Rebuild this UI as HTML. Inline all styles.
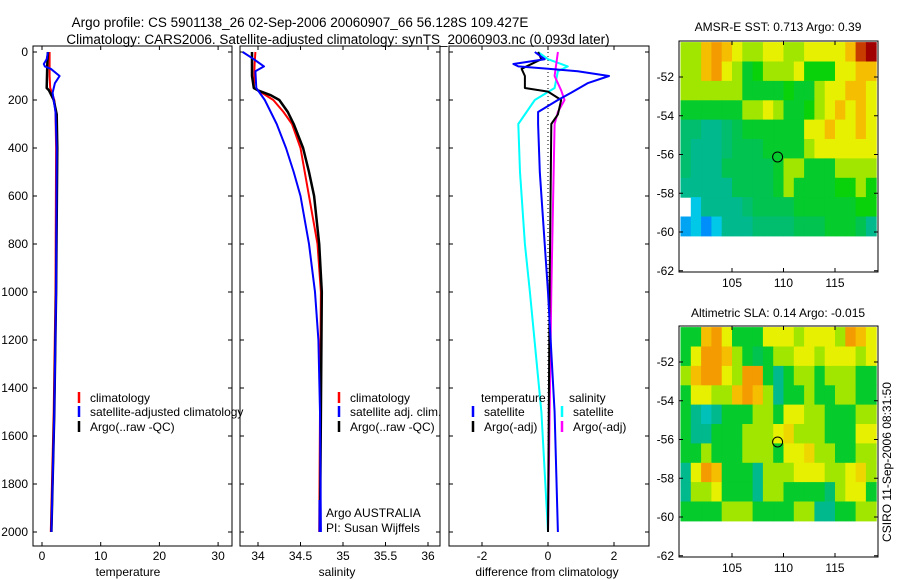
<!DOCTYPE html>
<html><head><meta charset="utf-8"><style>
body{margin:0;background:#fff;}
svg{display:block;font-family:"Liberation Sans",sans-serif;}
</style></head><body>
<svg id="c" width="900" height="580" xmlns="http://www.w3.org/2000/svg">
<text x="300" y="27" font-size="13.5" text-anchor="middle">Argo profile: CS 5901138_26 02-Sep-2006 20060907_66 56.128S 109.427E</text>
<text x="338" y="44" font-size="13.5" text-anchor="middle">Climatology: CARS2006. Satellite-adjusted climatology: synTS_20060903.nc (0.093d later)</text>
<text x="128" y="576" font-size="12" text-anchor="middle">temperature</text>
<text x="337" y="576" font-size="12" text-anchor="middle">salinity</text>
<text x="547" y="576" font-size="12" text-anchor="middle">difference from climatology</text>
<text x="778" y="31" font-size="12" text-anchor="middle">AMSR-E SST: 0.713 Argo: 0.39</text>
<text x="778" y="317" font-size="12" text-anchor="middle">Altimetric SLA: 0.14  Argo: -0.015</text>
<text transform="translate(891,462) rotate(-90)" font-size="12" text-anchor="middle">CSIRO 11-Sep-2006 08:31:50</text>
</svg>
<script>
// ---- data ----
const depthTicks=[0,200,400,600,800,1000,1200,1400,1600,1800,2000];
const tempTicks=[0,10,20,30];
const salTicks=[34,34.5,35,35.5,36];
const diffTicks=[-2,0,2];
const lonTicks=[105,110,115];
const latTicks=[-52,-54,-56,-58,-60,-62];

const tClimD=[0,50,100,150,170,200,250,400,1000,1500,2000];
const tClimV=[1.3,1.3,1.3,1.4,1.7,2.1,2.3,2.4,2.3,2.0,1.5];
const tSatD=[0,30,50,60,70,100,130,170,250,400,1000,1500,2000];
const tSatV=[1.0,0.8,0.3,0.5,1.5,3.0,2.2,1.8,2.3,2.5,2.4,2.1,1.6];
const tArgD=[0,50,150,160,200,260,400,1000,1500,2000];
const tArgV=[1.0,0.9,0.8,1.2,2.0,2.5,2.6,2.4,2.1,1.6];

const sClimD=[0,50,150,160,200,250,300,400,600,800,1000,1500,2000];
const sClimV=[33.97,33.96,33.95,34.0,34.18,34.3,34.4,34.5,34.6,34.7,34.74,34.73,34.72];
const sSatD=[0,30,60,80,150,200,300,400,500,600,800,1000,1200,1500,2000];
const sSatV=[33.82,33.95,34.07,33.97,33.98,34.08,34.22,34.33,34.42,34.5,34.6,34.67,34.71,34.73,34.74];
const sArgD=[0,100,150,160,180,200,250,300,400,500,600,800,1000,1500,2000];
const sArgV=[33.93,33.93,33.95,34.0,34.15,34.25,34.35,34.42,34.53,34.6,34.66,34.72,34.75,34.74,34.73];

const dTSatD=[0,30,50,60,70,80,100,130,170,200,250,300,500,1000,1500,2000];
const dTSatV=[-0.4,-0.1,-1.05,-0.9,0.0,0.9,1.85,1.2,0.7,0.3,-0.3,-0.3,-0.25,0.0,0.2,0.3];
const dTArgD=[0,30,70,100,150,165,200,260,300,1000,2000];
const dTArgV=[-0.3,-0.2,-0.8,-0.7,-0.7,0.0,0.4,0.3,0.1,0.05,0.0];
const dSSatD=[0,30,60,80,150,200,300,500,800,1000,1500,2000];
const dSSatV=[-0.3,0.0,0.6,0.3,0.2,-0.4,-0.9,-0.85,-0.7,-0.55,-0.2,0.0];
const dSArgD=[0,100,160,200,250,300,1000,2000];
const dSArgV=[0.3,0.2,0.4,0.5,0.3,0.2,0.1,0.0];

// map grids: rows lat -50.2..-60.2 (1 deg), cols lon 100..118 (1 deg); -1 = no data
const sstGrid=[
[6,6,8,8.5,8,7,6,6,7,7,6,6,7,7,7,7,8,9.5,10],
[6,6,8,8.5,7,6,4.5,5,6,6,6,7,5,5,5,7,7,8,8],
[6,6,6,6,6,6,4.5,4.5,4.5,4.5,5,4.5,4.5,6,7,7,8,8,7],
[4.5,4.5,4.5,4.5,4.5,4.5,6,6,7,6,4.5,4.5,5,6,7,8,7,8,7],
[3.5,3.5,3,3,3.5,4,4.5,4.5,4.5,4.5,4.5,4.5,7,7,8,7,7,8,7],
[3.5,3,3,3,3.5,4,4,4,4.5,4.5,4.5,4.5,6,7,7,7,7,7,7],
[3.5,3,3,3,4,4,4,4,4,4.5,6,6,4.5,4.5,4.5,6,6,6,6],
[3,3,3,3,3,4,4,4,4,4.5,6,4.5,4.5,4.5,4.5,5,5,6,5],
[-1,2,3,3,3,3,3.5,4,4,4,4,4.5,4.5,4.5,4.5,4.5,4.5,5,5],
[1.5,2,1.2,2,3,3,3,3.5,3.5,3.5,3.5,4,4,4,4.5,4.5,4.5,4,3]
];
const slaGrid=[
[4.5,4.5,8,8.5,7,4.5,4.5,4.5,7,7,7,6,7,7,7,6,8.5,8,7],
[4.5,7,8.5,8.5,8,6,4.5,4,4.5,6,6,7,7,6,7,7,7,6,7],
[6,8,8.5,8.5,7,6,8.5,8.5,4.5,3,4.5,6,6,4.5,6,6,6,4.5,4.5],
[4.5,7,7,6,6,8,8.5,8,6,3,4.5,4.5,6,4.5,4.5,6,6,4.5,4.5],
[4.5,3,2.5,3,4.5,4.5,4.5,6,6,4.5,7,7,6,6,4.5,4.5,4.5,6,6],
[4.5,3,3,4.5,4.5,4.5,6,6,6,7,7.5,6,6,6,4.5,4.5,4.5,7,7],
[4.5,4.5,6,4.5,4.5,4.5,6,6,6,4.5,7,7,7.5,6,6,4.5,4.5,6,6],
[3,7,8.5,8,4.5,4.5,4.5,3,6,6,6,7,7,7,6,6,7,7.5,6],
[3,6,6,7,4.5,4.5,4.5,3,6,6,4.5,4.5,4.5,4.5,3.5,6,7,7,4.5],
[4.5,4.5,4.5,4.5,6,6,6,4.5,4.5,4.5,4.5,6,6,3,3,4.5,4.5,6,6]
];
const argoLon=109.427, argoLat=-56.128;

// ---- drawing ----
const svg=document.getElementById('c');
const NS='http://www.w3.org/2000/svg';
function mk(tag,attrs,parent){const e=document.createElementNS(NS,tag);for(const k in attrs)e.setAttribute(k,attrs[k]);(parent||svg).appendChild(e);return e;}
const yD=d=>52+d*0.24;
const PT=46, PB=546;
const panels=[
 {name:'temperature',x0:33,x1:232,sx:v=>42+v*5.87,ticks:tempTicks,fmt:v=>String(v),labels:true},
 {name:'salinity',x0:240,x1:440,sx:v=>258+(v-34)*85,ticks:salTicks,fmt:v=>String(v),labels:false},
 {name:'difference',x0:449,x1:649,sx:v=>548+v*33,ticks:diffTicks,fmt:v=>String(v),labels:false}
];
panels.forEach(p=>{
  const g=mk('g',{});
  
  
  const fr=mk('rect',{x:p.x0,y:PT,width:p.x1-p.x0,height:PB-PT,fill:'none',stroke:'#000','stroke-width':1},g);
  
  
  depthTicks.forEach(d=>{
    const y=yD(d);
    mk('line',{x1:p.x0,x2:p.x0+4,y1:y,y2:y,stroke:'#000'},g);
    mk('line',{x1:p.x1-4,x2:p.x1,y1:y,y2:y,stroke:'#000'},g);
    if(p.labels){const t=mk('text',{x:p.x0-5,y:y+4,'font-size':12,'text-anchor':'end'},g);t.textContent=d;
      
      }
  });
  p.ticks.forEach(v=>{
    const x=p.sx(v);
    mk('line',{x1:x,x2:x,y1:PT,y2:PT+4,stroke:'#000'},g);
    mk('line',{x1:x,x2:x,y1:PB-4,y2:PB,stroke:'#000'},g);
    const t=mk('text',{x:x,y:560,'font-size':12,'text-anchor':'middle'},g);t.textContent=p.fmt(v);
    
    
  });
});
function line(p,D,V,color,w,name){
  const pts=D.map((d,i)=>p.sx(V[i]).toFixed(1)+','+yD(d).toFixed(1)).join(' ');
  const e=mk('polyline',{points:pts,fill:'none',stroke:color,'stroke-width':w,'stroke-linejoin':'round'});
  
  
}
const [P1,P2,P3]=panels;
line(P1,tClimD,tClimV,'#f00',2,'temp-climatology-line');
line(P1,tArgD,tArgV,'#000',2.5,'temp-argo-line');
line(P1,tSatD,tSatV,'#00f',2,'temp-satellite-line');
line(P2,sClimD,sClimV,'#f00',2,'sal-climatology-line');
line(P2,sArgD,sArgV,'#000',2.5,'sal-argo-line');
line(P2,sSatD,sSatV,'#00f',2,'sal-satellite-line');
const zl=mk('line',{x1:P3.sx(0),x2:P3.sx(0),y1:yD(0),y2:yD(2000),stroke:'#000','stroke-dasharray':'1,3'});


line(P3,dSSatD,dSSatV,'#0ff',2,'sal-diff-satellite-line');
line(P3,dSArgD,dSArgV,'#f0f',2,'sal-diff-argo-line');
line(P3,dTArgD,dTArgV,'#000',2,'temp-diff-argo-line');
line(P3,dTSatD,dTSatV,'#00f',2,'temp-diff-satellite-line');
const bl=mk('line',{x1:320,x2:320,y1:500,y2:532,stroke:'#00f','stroke-width':3});



function legend(x,y,color,label,name){
  const l=mk('line',{x1:x,x2:x,y1:y-10,y2:y+1,stroke:color,'stroke-width':2.5});
  
  
  if(label){const t=mk('text',{x:x+11,y:y,'font-size':12});t.textContent=label;
  
  }
}
legend(79,402,'#f00','climatology','legend-temp-climatology');
legend(79,416,'#00f','satellite-adjusted climatology','legend-temp-satellite');
legend(79,431,'#000','Argo(..raw -QC)','legend-temp-argo');
legend(339,402,'#f00','climatology','legend-sal-climatology');
legend(339,416,'#00f','satellite adj. clim.','legend-sal-satellite');
legend(339,431,'#000','Argo(..raw -QC)','legend-sal-argo');
function txt(x,y,s,name){const t=mk('text',{x:x,y:y,'font-size':12});t.textContent=s;
  
  }
txt(481,402,'temperature','legend-temperature-heading');
txt(569,402,'salinity','legend-salinity-heading');
legend(473,416,'#00f','satellite','legend-diff-temp-satellite');
legend(473,431,'#000','Argo(-adj)','legend-diff-temp-argo');
legend(562,416,'#0ff','satellite','legend-diff-sal-satellite');
legend(562,431,'#f0f','Argo(-adj)','legend-diff-sal-argo');
txt(326,517,'Argo AUSTRALIA','float-country-label');
txt(326,532,'PI: Susan Wijffels','float-pi-label');

// colormap
const cmapStops=[[1,[0,128,255]],[2,[0,200,230]],[3,[0,185,140]],[4,[0,195,80]],[5,[10,210,10]],[6,[160,230,0]],[7,[230,240,0]],[8,[245,190,0]],[9,[240,120,0]],[10,[160,0,0]]];
function cmap(v){
  if(v<=cmapStops[0][0])return 'rgb('+cmapStops[0][1]+')';
  for(let i=1;i<cmapStops.length;i++){if(v<=cmapStops[i][0]){const [a,ca]=cmapStops[i-1],[b,cb]=cmapStops[i];const t=(v-a)/(b-a);
    return 'rgb('+ca.map((c,k)=>Math.round(c+(cb[k]-c)*t)).join(',')+')';}}
  return 'rgb('+cmapStops[cmapStops.length-1][1]+')';
}
function drawMap(grid,off,name){
  const sx=lon=>732+(lon-105)*10.3;
  const sy=lat=>232+off+(-60-lat)*19.375;
  const g=mk('g',{});
  
  
  grid.forEach((row,j)=>row.forEach((v,i)=>{
    if(v<0)return;
    const x0=sx(100+i),x1=sx(101+i),y0=sy(-50.2-j),y1=sy(-51.2-j);
    const r=mk('rect',{x:x0.toFixed(1),y:y0.toFixed(1),width:(x1-x0+0.5).toFixed(1),height:(y1-y0+0.5).toFixed(1),fill:cmap(v)},g);
    
    
  }));
  const fr=mk('rect',{x:679,y:41+off,width:199,height:231,fill:'none',stroke:'#000'},g);
  
  
  lonTicks.forEach(l=>{const x=sx(l);
    mk('line',{x1:x,x2:x,y1:41+off,y2:45+off,stroke:'#000'},g);
    mk('line',{x1:x,x2:x,y1:268+off,y2:272+off,stroke:'#000'},g);
    const t=mk('text',{x:x,y:287+off,'font-size':12,'text-anchor':'middle'},g);t.textContent=l;
    
    });
  latTicks.forEach(l=>{const y=sy(l);
    mk('line',{x1:679,x2:683,y1:y,y2:y,stroke:'#000'},g);
    mk('line',{x1:874,x2:878,y1:y,y2:y,stroke:'#000'},g);
    const t=mk('text',{x:674,y:y+4,'font-size':12,'text-anchor':'end'},g);t.textContent=l;
    
    });
  const c=mk('circle',{cx:sx(argoLon),cy:sy(argoLat),r:5,fill:'none',stroke:'#000'},g);
  
  
}
drawMap(sstGrid,0,'sst-map');
drawMap(slaGrid,285,'sla-map');
</script>
</body></html>
